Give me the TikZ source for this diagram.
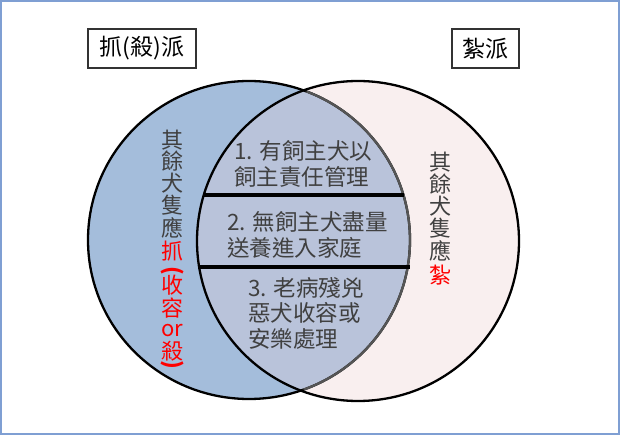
\documentclass[tikz,border=0pt]{standalone}
\usepackage{fontspec}
\setmainfont{Noto Sans CJK TC}
\usepackage{graphicx}
\definecolor{leftblue}{HTML}{A4BDDB}
\definecolor{midblue}{HTML}{B9C3DA}
\definecolor{rightpink}{HTML}{F9EFEF}
\definecolor{framecol}{HTML}{7F9FD3}
\definecolor{bodygray}{HTML}{404040}
\definecolor{boxgray}{HTML}{333333}
\definecolor{arcgray}{HTML}{555555}
\definecolor{hotred}{HTML}{FF0000}
\begin{document}
\begin{tikzpicture}[x=1pt,y=-1pt,
  body/.style={font=\fontsize{22.5}{25.5}\selectfont, text=bodygray, inner sep=0pt, align=left, anchor=west},
  vch/.style={font=\fontsize{22}{22}\selectfont, text=bodygray, inner sep=0pt},
  rch/.style={font=\fontsize{22}{22}\selectfont, text=hotred, inner sep=0pt},
  labelbox/.style={draw=boxgray, line width=1.5pt, font=\fontsize{23}{23}\selectfont, text=black, inner sep=0pt, minimum height=39pt},
  ellstroke/.style={line width=2.3pt},
  divider/.style={line width=3.5pt, black}]
\useasboundingbox (0,0) rectangle (621,435);
\draw[framecol, line width=1.5pt] (1,1) rectangle (619,434);
% ellipses
\fill[rightpink] (358,241) ellipse [x radius=161pt, y radius=160pt];
\fill[leftblue] (249,240) ellipse [x radius=161pt, y radius=159pt];
\begin{scope}
  \clip (358,241) ellipse [x radius=161pt, y radius=160pt];
  \fill[midblue] (249,240) ellipse [x radius=161pt, y radius=159pt];
\end{scope}
\draw[ellstroke, black] (249,240) ellipse [x radius=161pt, y radius=159pt];
\begin{scope}
  \clip (358,241) ellipse [x radius=159pt, y radius=158pt];
  \draw[ellstroke, arcgray] (249,240) ellipse [x radius=161pt, y radius=159pt];
\end{scope}
\draw[ellstroke, black] (358,241) ellipse [x radius=161pt, y radius=160pt];
% dividers
\coordinate (d1a) at (203,195);
\coordinate (d1b) at (404,195);
\coordinate (d2a) at (197.5,267);
\coordinate (d2b) at (409.5,267);
\draw[divider] (d1a) -- (d1b);
\draw[divider] (d2a) -- (d2b);
% labels
\node[labelbox, minimum width=108pt] (lbox) at (142,48.5) {抓(殺)派};
\node[labelbox, minimum width=67pt] (rbox) at (485.5,48.5) {紮派};
% intersection text
\node[body] (s1) at (234,164) {1. 有飼主犬以\\飼主責任管理};
\node[body] (s2) at (227,235) {2. 無飼主犬盡量\\送養進入家庭};
\node[body] (s3) at (248,313) {3. 老病殘兇\\惡犬收容或\\安樂處理};
% left vertical text
\node[vch] (l1) at (172,140) {其};
\node[vch] (l2) at (172,161.5) {餘};
\node[vch] (l3) at (172,183) {犬};
\node[vch] (l4) at (172,205) {隻};
\node[vch] (l5) at (172,228) {應};
\node[rch] (l6) at (172,251) {抓};
\node[rch, font=\fontsize{22}{22}\selectfont\bfseries] (l7) at (172,272) {\rotatebox[origin=c]{-90}{(}};
\node[rch] (l8) at (172,285.5) {收};
\node[rch] (l9) at (172,308) {容};
\node[rch] (l10) at (172,331) {or};
\node[rch] (l11) at (172,351.5) {殺};
\node[rch, font=\fontsize{22}{22}\selectfont\bfseries] (l12) at (172,366.5) {\rotatebox[origin=c]{-90}{)}};
% right vertical text
\node[vch] (r1) at (440,162) {其};
\node[vch] (r2) at (440,184) {餘};
\node[vch] (r3) at (440,206) {犬};
\node[vch] (r4) at (440,228) {隻};
\node[vch] (r5) at (440,251) {應};
\node[rch] (r6) at (440,275) {紮};
\end{tikzpicture}
\end{document}
